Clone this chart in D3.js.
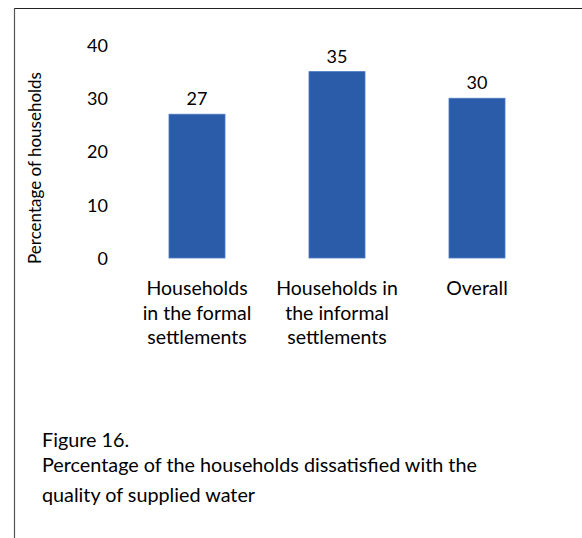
<!DOCTYPE html>
<html>
<head>
<meta charset="utf-8">
<script src="https://cdn.jsdelivr.net/npm/d3@7"></script>
<style>
  html, body { margin: 0; padding: 0; background: #fff; }
  svg { display: block; }
  text { font-family: Lato, "Open Sans", sans-serif; fill: #000; }
</style>
</head>
<body>
<svg id="chart" width="582" height="538"></svg>
<script>
// Share of households dissatisfied with supplied water quality (%)
const categories = [
  ["Households", "in the formal", "settlements"],
  ["Households in", "the informal", "settlements"],
  ["Overall"]
];
const values = [27, 35, 30];
const yTicks = [0, 10, 20, 30, 40];
const yTitle = "Percentage of households";
const captionLines = [
  "Figure 16.",
  "Percentage of the households dissatisfied with the",
  "quality of supplied water"
];

const svg = d3.select("#chart");

// frame lines (top and left)
svg.append("line").attr("x1", 14.5).attr("x2", 582).attr("y1", 8.5).attr("y2", 8.5)
  .attr("stroke", "#222").attr("stroke-width", 1.2);
svg.append("line").attr("x1", 14.5).attr("x2", 14.5).attr("y1", 8).attr("y2", 538)
  .attr("stroke", "#555").attr("stroke-width", 1.2);

const x = d3.scaleBand()
  .domain(d3.range(categories.length))
  .range([127, 547])
  .paddingInner(0.6)
  .paddingOuter(0.3);

const y = d3.scaleLinear().domain([0, 40]).range([258, 45]);

// y axis: labels only, no line or ticks
const yAxis = d3.axisLeft(y).tickValues(yTicks).tickSize(0).tickPadding(0);
const gy = svg.append("g").attr("transform", "translate(108,0)").call(yAxis);
gy.select(".domain").remove();
gy.selectAll("text")
  .attr("font-family", "Lato, sans-serif")
  .attr("font-size", 18)
  .attr("fill", "#000")
  .attr("dy", "0.35em");

// y axis title
svg.append("text")
  .attr("transform", "translate(41,168) rotate(-90)")
  .attr("text-anchor", "middle")
  .attr("font-size", 17)
  .text(yTitle);

// bars
svg.append("g").selectAll("rect")
  .data(values)
  .join("rect")
  .attr("x", (d, i) => x(i))
  .attr("width", x.bandwidth())
  .attr("y", d => y(d))
  .attr("height", d => y(0) - y(d))
  .attr("fill", "#2b5ca9")
  .attr("stroke", "#4a78c0")
  .attr("stroke-width", 0.8);

// value labels
svg.append("g").selectAll("text")
  .data(values)
  .join("text")
  .attr("x", (d, i) => x(i) + x.bandwidth() / 2)
  .attr("y", d => y(d) - 9)
  .attr("text-anchor", "middle")
  .attr("font-size", 18)
  .text(d => d);

// category labels
const xAxis = d3.axisBottom(x).tickSize(0).tickFormat(() => "");
const gx = svg.append("g").attr("transform", `translate(0,${y(0)})`).call(xAxis);
gx.select(".domain").remove();
gx.selectAll(".tick").each(function(i) {
  const t = d3.select(this).append("text")
    .attr("text-anchor", "middle")
    .attr("font-size", 19.5)
    .attr("fill", "#000");
  categories[i].forEach((line, k) => {
    t.append("tspan").attr("x", 0).attr("y", 37 + k * 24.5).text(line);
  });
});

// caption
const capY = [447, 472, 502];
svg.append("g").selectAll("text")
  .data(captionLines)
  .join("text")
  .attr("x", 42)
  .attr("y", (d, i) => capY[i])
  .attr("font-size", 19.8)
  .text(d => d);
</script>
</body>
</html>
